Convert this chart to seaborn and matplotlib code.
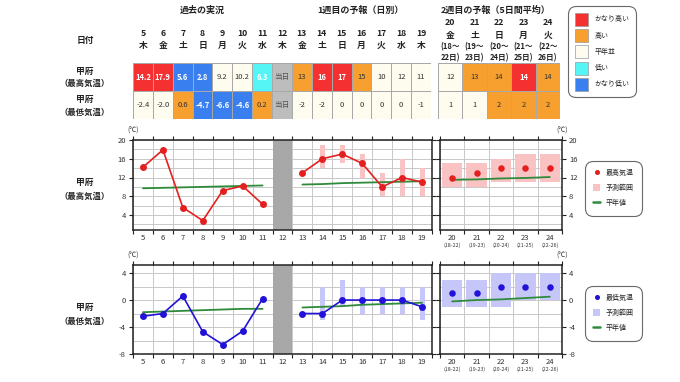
import matplotlib
matplotlib.use("Agg")
import matplotlib.pyplot as plt
import seaborn as sns
import numpy as np
import pandas as pd
from matplotlib.colors import ListedColormap
from matplotlib.lines import Line2D
from matplotlib.patches import Patch
from matplotlib.ticker import FixedLocator, MultipleLocator

sns.set_style("white")
plt.rcParams["font.family"] = ["Noto Sans CJK JP", "DejaVu Sans"]
plt.rcParams["axes.unicode_minus"] = False

# 日付
past_days = [5, 6, 7, 8, 9, 10, 11]
w1_days = [13, 14, 15, 16, 17, 18, 19]
w2_days = [20, 21, 22, 23, 24]
table_days = [5, 6, 7, 8, 9, 10, 11, 12, 13, 14, 15, 16, 17, 18, 19]
weekdays_1 = ["木", "金", "土", "日", "月", "火", "水", "木", "金", "土", "日", "月", "火", "水", "木"]
weekdays_2 = ["金", "土", "日", "月", "火"]
w2_start = [18, 19, 20, 21, 22]
w2_end = [22, 23, 24, 25, 26]

# 過去の実況
past_max = [14.2, 17.9, 5.6, 2.8, 9.2, 10.2, 6.3]
past_min = [-2.4, -2.0, 0.6, -4.7, -6.6, -4.6, 0.2]
# 1週目の予報
w1_max = [13, 16, 17, 15, 10, 12, 11]
w1_min = [-2, -2, 0, 0, 0, 0, -1]
w1_max_lo = [np.nan, 14, 15, 12, 8, 8, 8]
w1_max_hi = [np.nan, 19, 19, 17, 13, 16, 14]
w1_min_lo = [np.nan, -3, -1, -2, -2, -2, -3]
w1_min_hi = [np.nan, 2, 3, 2, 2, 2, 2]
# 2週目の予報
w2_max = [12, 13, 14, 14, 14]
w2_min = [1, 1, 2, 2, 2]
w2_max_lo = [10, 10, 11, 11, 11]
w2_max_hi = [15, 15, 16, 17, 17]
w2_min_lo = [-1, -1, -1, 0, 0]
w2_min_hi = [3, 3, 4, 4, 4]
# 平年値
past_max_norm = [9.7, 9.8, 9.9, 10.0, 10.1, 10.2, 10.3]
w1_max_norm = [10.5, 10.6, 10.8, 10.9, 11.0, 11.1, 11.2]
w2_max_norm = [11.5, 11.6, 11.8, 11.9, 12.1]
past_min_norm = [-1.8, -1.7, -1.6, -1.5, -1.4, -1.3, -1.3]
w1_min_norm = [-1.1, -1.0, -0.9, -0.7, -0.6, -0.5, -0.4]
w2_min_norm = [-0.2, 0.0, 0.1, 0.3, 0.5]

# 階級 (H2:かなり高い H:高い N:平年並 L:低い L2:かなり低い T:当日)
max_class_1 = ["H2", "H2", "L2", "L2", "N", "N", "L", "T", "H", "H2", "H2", "H", "N", "N", "N"]
min_class_1 = ["N", "N", "H", "L2", "L2", "L2", "H", "T", "N", "N", "N", "N", "N", "N", "N"]
max_class_2 = ["N", "H", "H", "H2", "H"]
min_class_2 = ["N", "N", "H", "H", "H"]

legend_classes = ["H2", "H", "N", "L", "L2"]
class_names = ["かなり高い", "高い", "平年並", "低い", "かなり低い"]
class_codes = {"N": 0, "H": 1, "H2": 2, "L": 3, "L2": 4, "T": 5}
class_colors = ["#fefcef", "#f7a030", "#f43030", "#55f5f5", "#3a7ff0", "#bdbdbd"]

RED = "#e3201f"
BLUE = "#2212d8"
GREEN = "#2e8b3a"
PINK = "#f9c3c3"
LAV = "#c6c6f8"
GRID = "#c8c8c8"
INK = "#222222"

W, H = 680, 382
fig = plt.figure(figsize=(6.8, 3.82), dpi=100)


def rect(x0, y0, x1, y1):
    return [x0 / W, 1 - y1 / H, (x1 - x0) / W, (y1 - y0) / H]


def ftext(x, y, s, **kw):
    kw.setdefault("ha", "center")
    kw.setdefault("va", "center")
    fig.text(x / W, 1 - y / H, s, **kw)


def box_legend(leg):
    fr = leg.get_frame()
    fr.set_edgecolor("#444444")
    fr.set_linewidth(0.8)
    fr.set_boxstyle("round,pad=0,rounding_size=1.1")


cmap = ListedColormap(class_colors)


def draw_table(ax, classes, labels):
    codes = np.array([[class_codes[c] for c in row] for row in classes])
    sns.heatmap(codes, cmap=cmap, vmin=-0.5, vmax=5.5, annot=np.array(labels), fmt="",
                cbar=False, linewidths=0.6, linecolor="#a8a8a8",
                xticklabels=False, yticklabels=False,
                annot_kws={"fontsize": 5.5}, ax=ax)
    for t, c in zip(ax.texts, codes.ravel()):
        if c in (2, 3, 4):
            t.set_color("white")
            t.set_fontweight("bold")
        elif c == 5:
            t.set_color("#555555")
        else:
            t.set_color("#333333")


# ---- 表 ----
lab_max_1 = [f"{v:.1f}" for v in past_max] + ["当日"] + [f"{v:d}" for v in w1_max]
lab_min_1 = [f"{v:.1f}" for v in past_min] + ["当日"] + [f"{v:d}" for v in w1_min]
ax_t1 = fig.add_axes(rect(133, 63, 431, 119))
draw_table(ax_t1, [max_class_1, min_class_1], [lab_max_1, lab_min_1])
for i, (d, wd) in enumerate(zip(table_days, weekdays_1)):
    ax_t1.text(i + 0.5, -1.07, str(d), ha="center", va="center", fontsize=6.3,
               fontweight="bold", color=INK, clip_on=False)
    ax_t1.text(i + 0.5, -0.64, wd, ha="center", va="center", fontsize=6.3,
               fontweight="bold", color=INK, clip_on=False)

ax_t2 = fig.add_axes(rect(438, 63, 560, 119))
draw_table(ax_t2, [max_class_2, min_class_2],
           [[f"{v:d}" for v in w2_max], [f"{v:d}" for v in w2_min]])
for i, (d, wd, s, e) in enumerate(zip(w2_days, weekdays_2, w2_start, w2_end)):
    ax_t2.text(i + 0.5, -1.43, str(d), ha="center", va="center", fontsize=6.3,
               fontweight="bold", color=INK, clip_on=False)
    ax_t2.text(i + 0.5, -1.0, wd, ha="center", va="center", fontsize=6.3,
               fontweight="bold", color=INK, clip_on=False)
    ax_t2.text(i + 0.5, -0.57, f"({s}〜", ha="center", va="center", fontsize=5.5,
               fontweight="bold", color=INK, clip_on=False)
    ax_t2.text(i + 0.5, -0.2, f"{e}日)", ha="center", va="center", fontsize=5.5,
               fontweight="bold", color=INK, clip_on=False)

ftext(202, 10, "過去の実況", fontsize=6.5, fontweight="bold", color=INK)
ftext(360, 10, "1週目の予報（日別）", fontsize=6.5, fontweight="bold", color=INK)
ftext(496, 10, "2週目の予報（5日間平均）", fontsize=6.5, fontweight="bold", color=INK)
ftext(85, 40, "日付", fontsize=6.3, fontweight="bold", color=INK)
ftext(85, 71, "甲府", fontsize=6.3, fontweight="bold", color=INK)
ftext(85, 83, "（最高気温）", fontsize=6, fontweight="bold", color=INK)
ftext(85, 99, "甲府", fontsize=6.3, fontweight="bold", color=INK)
ftext(85, 112, "（最低気温）", fontsize=6, fontweight="bold", color=INK)

class_handles = [Patch(facecolor=class_colors[class_codes[c]], edgecolor="#999999", lw=0.5)
                 for c in legend_classes]
leg = fig.legend(class_handles, class_names, loc="upper left",
                 bbox_to_anchor=(568 / W, 1 - 6 / H), fontsize=5,
                 handlelength=1.87, handleheight=2.5, labelspacing=0.48,
                 borderpad=0.95, handletextpad=1.0, borderaxespad=0,
                 frameon=True, fancybox=True)
box_legend(leg)


# ---- グラフ ----
def style_axis(ax, xlim, ylim, yticks, day_labels, right=False):
    ax.set_xlim(*xlim)
    ax.set_ylim(*ylim)
    ax.set_xticks(np.arange(xlim[0], xlim[1] + 0.01, 1))
    ax.set_xticks(day_labels, minor=True)
    ax.set_xticklabels([str(d) for d in day_labels], minor=True)
    ax.tick_params(axis="x", which="major", length=3, width=0.8, top=True, bottom=True,
                   direction="out", labelbottom=False, color=INK)
    ax.tick_params(axis="x", which="minor", length=0, labelsize=5.5, pad=3, colors="#333333")
    ax.yaxis.set_major_locator(FixedLocator(yticks))
    ax.yaxis.set_minor_locator(MultipleLocator(2))
    ax.tick_params(axis="y", which="major", left=True, right=True, length=3, width=0.8,
                   direction="out", labelsize=5.5, labelleft=not right, labelright=right,
                   color=INK, labelcolor="#333333", pad=2)
    ax.tick_params(axis="y", which="minor", length=0)
    ax.set_axisbelow(True)
    ax.grid(axis="y", which="both", color=GRID, lw=0.7)
    ax.grid(axis="x", which="major", color=GRID, lw=0.7)
    for sp in ax.spines.values():
        sp.set_visible(True)
        sp.set_color(INK)
        sp.set_linewidth(1.1)
    ax.set_xlabel("")
    ax.set_ylabel("")


def draw_charts(y0, y1, ylim, yticks, past, w1, w1_lo, w1_hi, w2, w2_lo, w2_hi,
                norms, color, rng_color, label):
    ax1 = fig.add_axes(rect(133, y0, 432, y1))
    ax1.axvspan(11.5, 12.5, color="#a8a8a8", lw=0, zorder=1)
    r = pd.DataFrame({"day": w1_days, "lo": w1_lo, "hi": w1_hi}).dropna()
    ax1.bar(r["day"], r["hi"] - r["lo"], bottom=r["lo"], width=0.25, color=rng_color, lw=0, zorder=1)
    sns.lineplot(x=past_days, y=norms[0], color=GREEN, lw=1.3, ax=ax1, zorder=3)
    sns.lineplot(x=w1_days, y=norms[1], color=GREEN, lw=1.3, ax=ax1, zorder=3)
    sns.lineplot(x=past_days, y=past, color=color, lw=1.2, marker="o", markersize=5,
                 markeredgewidth=0, ax=ax1, zorder=4)
    sns.lineplot(x=w1_days, y=w1, color=color, lw=1.2, marker="o", markersize=5,
                 markeredgewidth=0, ax=ax1, zorder=4)
    style_axis(ax1, (4.5, 19.5), ylim, yticks, table_days)

    ax2 = fig.add_axes(rect(440, y0, 562, y1))
    ax2.bar(w2_days, np.array(w2_hi) - np.array(w2_lo), bottom=w2_lo, width=0.84,
            color=rng_color, lw=0, zorder=1)
    sns.lineplot(x=w2_days, y=norms[2], color=GREEN, lw=1.3, ax=ax2, zorder=3)
    sns.scatterplot(x=w2_days, y=w2, color=color, s=22, linewidth=0, ax=ax2, zorder=4)
    style_axis(ax2, (19.5, 24.5), ylim, yticks, w2_days, right=True)
    for d, s, e in zip(w2_days, w2_start, w2_end):
        ax2.text(d, -0.17, f"({s}-{e})", transform=ax2.get_xaxis_transform(), ha="center",
                 va="center", fontsize=3.8, color="#333333")

    ftext(133, y0 - 9, "(℃)", fontsize=5, color="#333333")
    ftext(562, y0 - 9, "(℃)", fontsize=5, color="#333333")

    handles = [Line2D([], [], marker="o", color=color, linestyle="None", markersize=2.6),
               Patch(facecolor=rng_color, edgecolor="none"),
               Line2D([], [], color=GREEN, lw=1.8)]
    lg = fig.legend(handles, [label, "予測範囲", "平年値"], loc="upper left",
                    bbox_to_anchor=(585 / W, 1 - (y0 + 21) / H), fontsize=5,
                    handlelength=1.0, handleheight=1.16, labelspacing=1.0, borderpad=1.2,
                    handletextpad=0.75, borderaxespad=0, frameon=True, fancybox=True)
    box_legend(lg)


draw_charts(140, 230, (0.8, 20), [4, 8, 12, 16, 20], past_max, w1_max, w1_max_lo, w1_max_hi,
            w2_max, w2_max_lo, w2_max_hi, [past_max_norm, w1_max_norm, w2_max_norm],
            RED, PINK, "最高気温")
draw_charts(265, 354, (-8, 5.2), [-8, -4, 0, 4], past_min, w1_min, w1_min_lo, w1_min_hi,
            w2_min, w2_min_lo, w2_min_hi, [past_min_norm, w1_min_norm, w2_min_norm],
            BLUE, LAV, "最低気温")

ftext(85, 182, "甲府", fontsize=6.3, fontweight="bold", color=INK)
ftext(85, 196, "（最高気温）", fontsize=6, fontweight="bold", color=INK)
ftext(85, 307, "甲府", fontsize=6.3, fontweight="bold", color=INK)
ftext(85, 321, "（最低気温）", fontsize=6, fontweight="bold", color=INK)

fig.savefig("out.png", dpi=100)
